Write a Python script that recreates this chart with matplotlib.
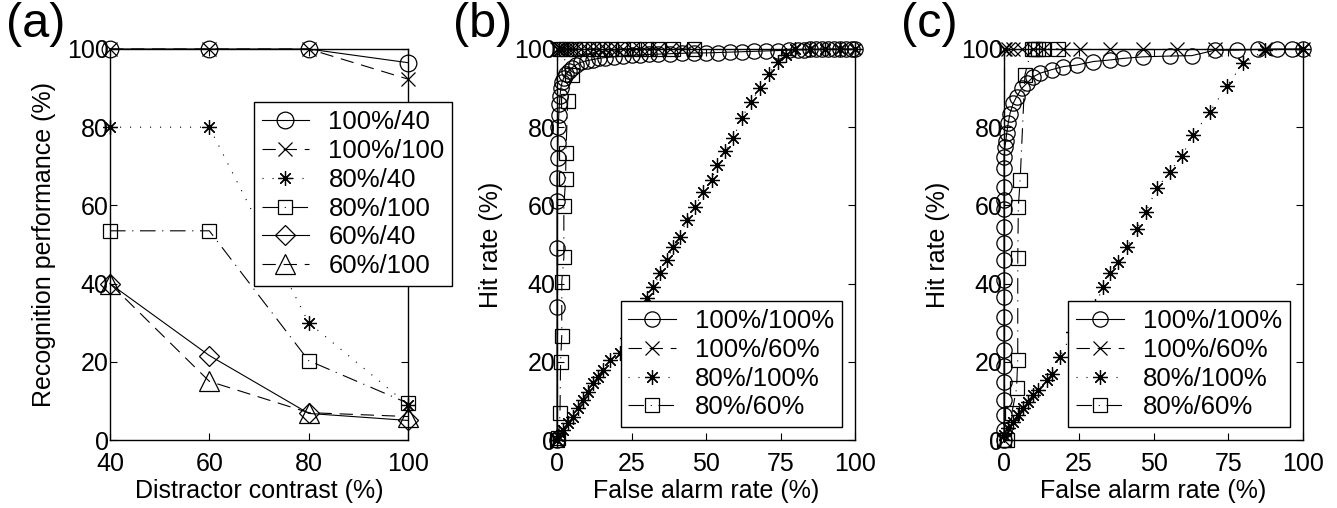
import matplotlib
matplotlib.use("Agg")
import matplotlib.pyplot as plt

plt.rcParams['font.family'] = ['Liberation Sans', 'DejaVu Sans']
plt.rcParams['font.size'] = 18

# ---- panel (a) ----
contrast = [40, 60, 80, 100]
a_labels = ['100%/40', '100%/100', '80%/40', '80%/100', '60%/40', '60%/100']
a_100_40 = [100, 100, 100, 96.5]
a_100_100 = [100, 100, 100, 92.3]
a_80_40 = [80, 80, 30, 9]
a_80_100 = [53.5, 53.5, 20.3, 9.4]
a_60_40 = [40, 21.6, 6.8, 5]
a_60_100 = [40, 15, 7, 6]

# ---- panel (b) ROC ----
b_labels = ['100%/100%', '100%/60%', '80%/100%', '80%/60%']
b_c_fa = [0, 0, 0, 0, 0, 0.2, 0.3, 0.4, 0.6, 0.8, 1, 1.3, 1.7, 2.2, 3, 4, 5, 6.5, 8, 10,
          12, 14, 16, 19, 22, 25, 28, 31, 34, 38, 42, 46, 50, 54, 58, 62, 66, 70, 74, 78,
          81, 83, 85, 87, 89, 91, 93, 95, 97, 99, 100]
b_c_hit = [0, 34, 49, 61, 67, 72, 76, 80, 83, 86, 88, 90, 91.5, 92.5, 93.5, 94.5, 95.2, 96, 96.6, 97,
           97.3, 97.6, 97.8, 98, 98.2, 98.4, 98.5, 98.6, 98.7, 98.8, 98.9, 99, 99, 99.1, 99.2, 99.3, 99.4, 99.5, 99.6, 99.7,
           99.8, 99.8, 99.9, 99.9, 100, 100, 100, 100, 100, 100, 100]
b_x_fa = [0, 0, 0.5, 1, 1.5, 2, 3, 4, 5, 6, 8, 10, 12, 14, 16, 18, 20, 22, 25, 28, 31, 34, 38, 42, 46]
b_x_hit = [0, 100, 100, 100, 100, 100, 100, 100, 100, 100, 100, 100, 100, 100, 100, 100, 100, 100, 100, 100,
           100, 100, 100, 100, 100]
b_s_fa = [0, 0.5, 2.1, 3.8, 5.5, 7.2, 8.8, 10.5, 12.2, 13.9, 15.5, 17.8, 21.1, 23.5, 26, 28, 30.1, 32.3, 34.6,
          36.8, 39, 41.3, 43.5, 46.3, 49.1, 51.9, 53.6, 56.4, 59.2, 62, 65, 68.1, 71.1, 74, 77, 80, 85, 90, 95, 100]
b_s_hit = [0, 1, 2.6, 4.3, 6, 8.1, 10.2, 12.4, 14.5, 16.2, 17.9, 20.5, 22.2, 26, 29.5, 32.8, 36.2, 39.2, 42.6,
           46, 49.4, 52, 56.3, 59.7, 63.5, 66.5, 70.3, 73.8, 77.3, 82.3, 86.5, 89.9, 93.6, 96.8, 98.5, 100, 100, 100, 100, 100]
b_q_fa = [0, 0.5, 1, 1.2, 1.6, 1.6, 2.3, 2.3, 2.9, 3, 3.6, 4.9, 1, 3, 6, 9, 12, 15, 18, 22, 26, 30, 34, 39, 46]
b_q_hit = [0, 0.5, 6.8, 20, 26.6, 40.5, 46.7, 59.8, 66.8, 73.5, 86.7, 93.3, 100, 100, 100, 100, 100, 100, 100,
           100, 100, 100, 100, 100, 100]

# ---- panel (c) ROC ----
c_c_fa = [0, 0, 0, 0, 0, 0, 0, 0, 0, 0, 0, 0, 0, 0, 0, 0, 0, 0, 0, 0.3, 0.6, 0.9, 1.4, 2, 3.1, 4.2, 5.9,
          7.6, 9.8, 12, 15.9, 19.8, 24.3, 29.9, 35.5, 39.9, 46.6, 55.5, 62.8, 70.6, 77.8, 85.1, 91.2, 96.2, 100]
c_c_hit = [0, 2.6, 6.4, 10.2, 14.9, 18.8, 23, 27.3, 31.5, 36.7, 40.9, 46, 50.3, 54.6, 59.2, 61.4, 64.8, 69.5,
           72.5, 75, 76.5, 78.4, 81, 83.5, 86.1, 87.8, 89.9, 91.2, 92.9, 93.8, 94.7, 95.5, 95.9, 96.8, 97.2, 97.6,
           98, 98.2, 98.3, 99.7, 99.7, 99.9, 100, 100, 100]
c_x_fa = [0, 0, 0.3, 1.4, 3.1, 5.9, 9.8, 13.2, 19.8, 25.4, 35.5, 46.6, 57.7, 70.6, 87.2, 100]
c_x_hit = [0, 100, 100, 100, 100, 100, 100, 100, 100, 100, 100, 100, 100, 100, 100, 100]
c_s_fa = [0, 1.4, 3.1, 4.8, 6.5, 8.1, 9.8, 11.5, 14.3, 15.9, 18.7, 23, 27, 30.4, 33.2, 35.5, 38.2, 41.2,
          44.4, 47.5, 51.1, 55.5, 59.4, 63.3, 68.9, 74.5, 80, 87.3, 100]
c_s_hit = [1.3, 3, 4.7, 6.4, 8.1, 9.8, 11.5, 12.8, 15.3, 17, 21.3, 27.5, 31, 34.3, 39.2, 42.8, 45.6, 49.3,
           53.9, 58.4, 64.4, 68.6, 72.6, 78, 84, 90.5, 96.3, 99.7, 100]
c_q_fa = [0, 0.9, 2.6, 4.2, 4.6, 4.6, 4.8, 5.4, 7, 9.2, 10.3, 11.5, 13.1, 18.2]
c_q_hit = [0, 0, 6.8, 13.2, 20.5, 46.5, 59.7, 66.5, 93.4, 100, 100, 100, 100, 100]

dashed = (0, (12, 7))
dotted = (0, (1, 8))
dashdot = (0, (14, 6, 1, 6))
star = (8, 2, 0)

fig = plt.figure(figsize=(13.37, 5.08), dpi=100)
W, H = 1337.0, 508.0
ax_a = fig.add_axes([110 / W, 68 / H, 298 / W, 391 / H])
ax_b = fig.add_axes([557 / W, 68 / H, 298 / W, 391 / H])
ax_c = fig.add_axes([1004 / W, 68 / H, 299 / W, 391 / H])

def style(ax):
    ax.set_ylim(0, 100)
    ax.set_yticks([0, 20, 40, 60, 80, 100])
    ax.tick_params(direction='in', top=True, right=True, length=5, width=0.8, labelsize=18)
    ax.tick_params(axis='y', pad=1)
    ax.tick_params(axis='x', pad=8.5)
    for s in ax.spines.values():
        s.set_linewidth(1.0)

def curve(ax, x, y, ls, mk, ms, label):
    ax.plot(x, y, color='black', linestyle=ls, linewidth=0.8, marker=mk, markersize=ms,
            markerfacecolor='none', markeredgecolor='black', markeredgewidth=0.9,
            clip_on=False, label=label)

def add_legend(ax, loc, anchor):
    leg = ax.legend(loc=loc, bbox_to_anchor=anchor, borderaxespad=0, fancybox=False,
                    edgecolor='black', framealpha=1, handlelength=1.85, handletextpad=0.75,
                    labelspacing=0.19, borderpad=0.3, fontsize=18.5)
    leg.get_frame().set_linewidth(1.0)

# (a)
curve(ax_a, contrast, a_100_40, '-', 'o', 12, a_labels[0])
curve(ax_a, contrast, a_100_100, dashed, 'x', 10.5, a_labels[1])
curve(ax_a, contrast, a_80_40, dotted, star, 10.5, a_labels[2])
curve(ax_a, contrast, a_80_100, dashdot, 's', 10, a_labels[3])
curve(ax_a, contrast, a_60_40, '-', 'D', 10.5, a_labels[4])
curve(ax_a, contrast, a_60_100, dashed, '^', 14.5, a_labels[5])
ax_a.set_xlim(40, 100)
ax_a.set_xticks(contrast)
style(ax_a)
ax_a.set_xlabel('Distractor contrast (%)', labelpad=2.5)
ax_a.set_ylabel('Recognition performance (%)', labelpad=8)
add_legend(ax_a, 'upper left', (0.483, 0.864))

# (b) and (c)
for ax, dat in [(ax_b, (b_c_fa, b_c_hit, b_x_fa, b_x_hit, b_s_fa, b_s_hit, b_q_fa, b_q_hit)),
                (ax_c, (c_c_fa, c_c_hit, c_x_fa, c_x_hit, c_s_fa, c_s_hit, c_q_fa, c_q_hit))]:
    curve(ax, dat[0], dat[1], '-', 'o', 11, b_labels[0])
    curve(ax, dat[2], dat[3], dashed, 'x', 10, b_labels[1])
    curve(ax, dat[4], dat[5], dotted, star, 10.5, b_labels[2])
    curve(ax, dat[6], dat[7], dashdot, 's', 9.5, b_labels[3])
    ax.set_xlim(0, 100)
    ax.set_xticks([0, 25, 50, 75, 100])
    style(ax)
    ax.set_xlabel('False alarm rate (%)', labelpad=2.5)
    ax.set_ylabel('Hit rate (%)', labelpad=8)
    add_legend(ax, 'lower right', (0.956, 0.033))

fig.text(6 / W, 1 - 2 / H, '(a)', fontsize=35, va='top', ha='left')
fig.text(453 / W, 1 - 2 / H, '(b)', fontsize=35, va='top', ha='left')
fig.text(901 / W, 1 - 2 / H, '(c)', fontsize=35, va='top', ha='left')

fig.savefig('out.png', dpi=100)
